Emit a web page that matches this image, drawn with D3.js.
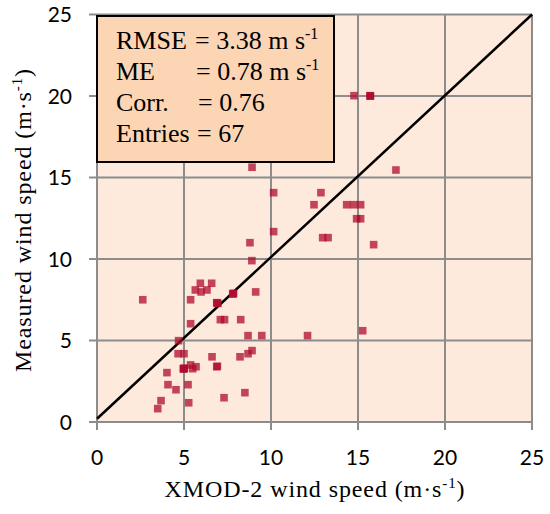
<html>
<head>
	<meta charset="utf-8">
	<title>wind speed scatter</title>
	<script src="https://cdn.jsdelivr.net/npm/d3@7"></script>
	<style>
		body { margin: 0; background: #fff; }
		.grid line { stroke: #8c8c8c; stroke-width: 2px; }
		.tick-label { font-family: Lato, "Open Sans", sans-serif; font-size: 21px; fill: #000; }
		.title { font-family: "Liberation Serif", "Times New Roman", serif; font-size: 24px; letter-spacing: 0.9px; fill: #000; }
		.stat { font-family: "Liberation Serif", "Times New Roman", serif; font-size: 26px; fill: #000; }
	</style>
</head>
<body>
	<svg id="chart" width="550" height="514"></svg>
<script>

//
// Data
//

// XMOD-2 modelled wind speed (m/s)
var modelled = [
	8.9, 5.94, 6.59, 5.65, 5.98, 6.32, 2.63, 5.38, 6.88, 6.95,
	7.8, 7.85, 9.12, 5.38, 7.09, 7.33, 8.26, 8.68, 9.47, 4.69,
	4.66, 5.0, 6.61, 8.22, 8.68, 8.91, 4.96, 5.02, 5.38, 5.69,
	5.5, 6.88, 6.92, 4.02, 4.08, 4.54, 5.23, 7.3, 8.5, 3.68,
	3.49, 5.27, 14.77, 15.69, 15.72, 8.91, 17.18, 10.15, 12.87, 12.47,
	14.35, 14.75, 15.15, 14.92, 15.15, 10.15, 8.79, 12.97, 13.28, 15.9,
	12.1, 15.27, 4.98, 6.9, 7.82, 15.7, 5.0
];

// Measured wind speed (m/s)
var measured = [
	9.9, 8.51, 8.51, 8.1, 7.98, 8.1, 7.5, 7.5, 7.32, 7.28,
	7.87, 7.9, 7.98, 6.03, 6.28, 6.28, 6.28, 5.3, 5.3, 4.99,
	4.19, 4.19, 4.0, 4.0, 4.19, 4.38, 3.27, 3.3, 3.5, 3.39,
	3.27, 3.39, 3.42, 3.03, 2.29, 1.98, 2.29, 1.49, 1.8, 1.31,
	0.82, 1.18, 20.02, 20.02, 20.0, 15.63, 15.46, 14.07, 14.07, 13.33,
	13.33, 13.33, 13.33, 12.47, 12.47, 11.68, 11.0, 11.31, 11.31, 10.88,
	5.3, 5.6, 3.25, 7.3, 7.85, 20.0, 3.28
];

var xTicks = [0, 5, 10, 15, 20, 25];
var yTicks = [0, 5, 10, 15, 20, 25];

var statLabels = ["RMSE", "ME", "Corr.", "Entries"];
var statValues = ["= 3.38 m s", "= 0.78 m s", "= 0.76", "= 67"];
var statSups = ["-1", "-1", "", ""];

//
// Layout
//

var margin = { top: 14.5, right: 18, bottom: 92, left: 97 };
var width = 550 - margin.left - margin.right;
var height = 514 - margin.top - margin.bottom;

var svg = d3.select("#chart");
var g = svg.append("g")
	.attr("transform", "translate(" + margin.left + "," + margin.top + ")");

var x = d3.scaleLinear().domain([0, 25]).range([0, width]);
var y = d3.scaleLinear().domain([0, 25]).range([height, 0]);

// Plot background
g.append("rect")
	.attr("width", width)
	.attr("height", height)
	.attr("fill", "#fdeadc");

// Grid + tick marks
var gridG = g.append("g").attr("class", "grid");
xTicks.forEach(function(d) {
	gridG.append("line")
		.attr("x1", x(d)).attr("x2", x(d))
		.attr("y1", 0).attr("y2", height + 8);
});
yTicks.forEach(function(d) {
	gridG.append("line")
		.attr("x1", -8).attr("x2", width)
		.attr("y1", y(d)).attr("y2", y(d));
});

// Tick labels
g.selectAll(".xlabel")
	.data(xTicks)
	.enter().append("text")
		.attr("class", "tick-label")
		.attr("x", function(d) { return x(d); })
		.attr("y", height + 43)
		.attr("text-anchor", "middle")
		.text(function(d) { return d; });

g.selectAll(".ylabel")
	.data(yTicks)
	.enter().append("text")
		.attr("class", "tick-label")
		.attr("x", -25)
		.attr("y", function(d) { return y(d); })
		.attr("dy", "0.36em")
		.attr("text-anchor", "end")
		.text(function(d) { return d; });

// 1:1 line
g.append("line")
	.attr("x1", x(0)).attr("y1", y(0.2))
	.attr("x2", x(25)).attr("y2", y(25))
	.attr("stroke", "#000")
	.attr("stroke-width", 2.5);

// Points
var pts = d3.range(modelled.length).map(function(i) {
	return { mx: modelled[i], my: measured[i] };
});
g.append("g").selectAll("rect")
	.data(pts)
	.enter().append("rect")
		.attr("x", function(d) { return x(d.mx) - 3.8; })
		.attr("y", function(d) { return y(d.my) - 3.8; })
		.attr("width", 7.6)
		.attr("height", 7.6)
		.attr("fill", "#af0c2d")
		.attr("fill-opacity", 0.75);

// Stats box
var box = svg.append("g");
box.append("rect")
	.attr("x", 97)
	.attr("y", 16)
	.attr("width", 237)
	.attr("height", 146)
	.attr("fill", "#fcd5b5")
	.attr("stroke", "#000")
	.attr("stroke-width", 2);

var eqX = [195, 196, 198, 197];
statLabels.forEach(function(s, i) {
	var yy = 49 + i * 31;
	box.append("text")
		.attr("class", "stat")
		.attr("x", 116)
		.attr("y", yy)
		.text(s);
	var t = box.append("text")
		.attr("class", "stat")
		.attr("x", eqX[i])
		.attr("y", yy)
		.text(statValues[i]);
	if (statSups[i]) {
		t.append("tspan")
			.attr("dy", -10)
			.attr("font-size", "16px")
			.text(statSups[i]);
	}
});

// Axis titles
var xt = svg.append("text")
	.attr("class", "title")
	.attr("x", 315)
	.attr("y", 497)
	.attr("text-anchor", "middle")
	.text("XMOD-2 wind speed (m\u00b7s");
xt.append("tspan").attr("dy", -9).attr("font-size", "15px").text("-1");
xt.append("tspan").attr("dy", 9).text(")");

var yt = svg.append("text")
	.attr("class", "title")
	.attr("transform", "translate(31,220) rotate(-90)")
	.attr("text-anchor", "middle")
	.text("Measured wind speed (m\u00b7s");
yt.append("tspan").attr("dy", -9).attr("font-size", "15px").text("-1");
yt.append("tspan").attr("dy", 9).text(")");

</script>
</body>
</html>
